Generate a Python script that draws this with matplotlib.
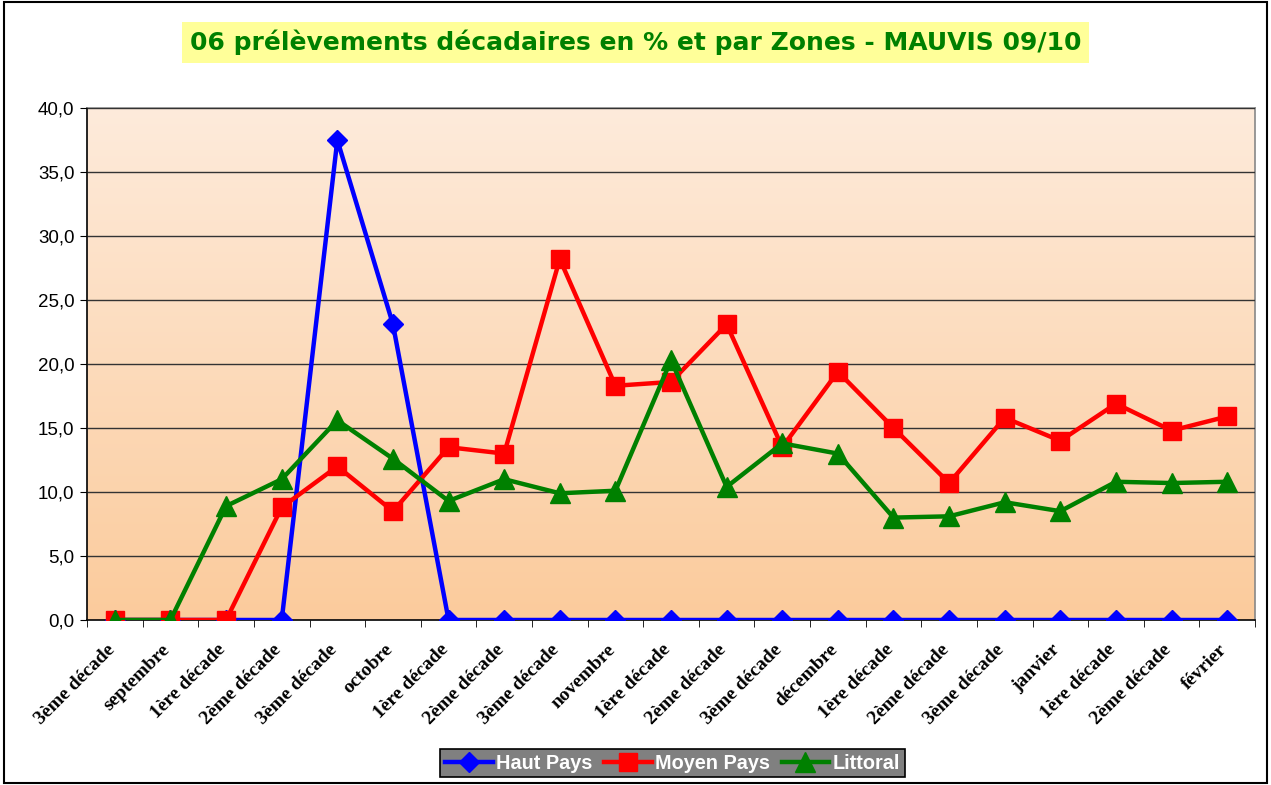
import matplotlib
matplotlib.use("Agg")
import matplotlib.pyplot as plt
import matplotlib.transforms as mtransforms
import numpy as np
from matplotlib.colors import LinearSegmentedColormap
from matplotlib.ticker import FuncFormatter, FixedLocator

# catégories (décades)
labels = ["3ème décade", "septembre", "1ère décade", "2ème décade", "3ème décade",
          "octobre", "1ère décade", "2ème décade", "3ème décade", "novembre",
          "1ère décade", "2ème décade", "3ème décade", "décembre", "1ère décade",
          "2ème décade", "3ème décade", "janvier", "1ère décade", "2ème décade",
          "février"]

haut_pays = [0, 0, 0, 0, 37.5, 23.1, 0, 0, 0, 0, 0, 0, 0, 0, 0, 0, 0, 0, 0, 0, 0]
moyen_pays = [0, 0, 0, 8.8, 12.0, 8.5, 13.5, 13.0, 28.2, 18.3, 18.6, 23.1, 13.5,
              19.4, 15.0, 10.7, 15.8, 14.0, 16.9, 14.8, 15.9]
littoral = [0, 0, 8.9, 11.0, 15.6, 12.6, 9.3, 11.0, 9.9, 10.1, 20.3, 10.4, 13.8,
            13.0, 8.0, 8.1, 9.2, 8.5, 10.8, 10.7, 10.8]

fig = plt.figure(figsize=(12.71, 7.85), dpi=100)
ax = fig.add_axes([0.0685, 0.2102, 0.9189, 0.6522])

# fond dégradé
cmap = LinearSegmentedColormap.from_list("bg", ["#FBCB9C", "#FEEBDB"])
grad = np.linspace(0, 1, 256).reshape(-1, 1)
ax.imshow(grad, cmap=cmap, aspect="auto", extent=[0, 1, 0, 1],
          transform=ax.transAxes, origin="lower", zorder=0)

x = np.arange(len(labels))
ax.plot(x, haut_pays, color="#0000FF", lw=3.2, marker="D", ms=10, label="Haut Pays", zorder=3)
ax.plot(x, moyen_pays, color="#FF0000", lw=3.2, marker="s", ms=12.5, label="Moyen Pays", zorder=4)
ax.plot(x, littoral, color="#008000", lw=3.2, marker="^", ms=14, label="Littoral", zorder=5)

ax.set_xlim(-0.5, len(labels) - 0.5)
ax.set_ylim(0, 40)
ax.set_yticks(np.arange(0, 41, 5))
ax.yaxis.set_major_formatter(FuncFormatter(lambda v, p: f"{v:.1f}".replace(".", ",")))
ax.yaxis.grid(True, color="#333333", lw=1.0, zorder=1)
ax.set_axisbelow(False)
for gl in ax.get_ygridlines():
    gl.set_zorder(1)

ax.set_xticks(x)
ax.set_xticklabels(labels, rotation=45, ha="right", rotation_mode="anchor",
                   family="Liberation Serif", fontweight="bold", fontsize=14)
ax.tick_params(axis="x", which="major", length=0, pad=15)
shift = mtransforms.ScaledTranslation(-9 / 100, 0, fig.dpi_scale_trans)
for t in ax.get_xticklabels():
    t.set_transform(t.get_transform() + shift)
ax.xaxis.set_minor_locator(FixedLocator(np.arange(-0.5, len(labels), 1)))
ax.tick_params(axis="x", which="minor", length=5, direction="out", color="black")
ax.tick_params(axis="y", length=5, direction="out", labelsize=13.5, pad=4)
for t in ax.get_yticklabels():
    t.set_family("Liberation Sans")

ax.spines["left"].set_color("black")
ax.spines["bottom"].set_color("black")
ax.spines["top"].set_color("#888888")
ax.spines["right"].set_color("#888888")
for s in ax.spines.values():
    s.set_linewidth(1.2)

fig.text(0.5, 0.946, "06 prélèvements décadaires en % et par Zones - MAUVIS 09/10",
         ha="center", va="center", fontsize=18, fontweight="bold", color="#008000",
         family="DejaVu Sans",
         bbox=dict(boxstyle="square,pad=0.3", fc="#FFFF99", ec="none"))

leg = fig.legend(loc="center", bbox_to_anchor=(0.529, 0.028), ncol=3,
                 facecolor="#808080", edgecolor="black", framealpha=1,
                 fancybox=False, handlelength=2.4, handletextpad=0.15,
                 columnspacing=0.6, borderpad=0.25,
                 prop={"family": "Liberation Sans", "weight": "bold", "size": 14.3})
leg.get_frame().set_linewidth(1.2)
for t in leg.get_texts():
    t.set_color("white")

# cadre de la figure
fig.add_artist(plt.Rectangle((0.003, 0.003), 0.994, 0.994, transform=fig.transFigure,
                             fill=False, ec="black", lw=1.5))

fig.savefig("out.png", dpi=100)
